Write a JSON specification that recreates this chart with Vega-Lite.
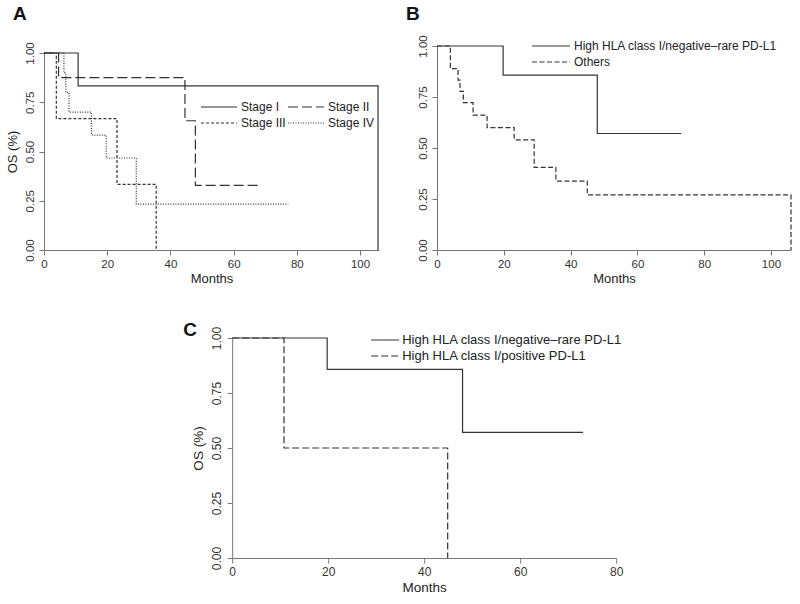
{
  "$schema": "https://vega.github.io/schema/vega-lite/v6.json",
  "background": "white",
  "padding": {"left": 6, "top": 4, "right": 0, "bottom": 0},
  "datasets": {
    "a": [
      {"stage": "Stage I", "month": 0, "os": 1},
      {"stage": "Stage I", "month": 10.8, "os": 0.833},
      {"stage": "Stage I", "month": 105.7, "os": 0},
      {"stage": "Stage II", "month": 0, "os": 1},
      {"stage": "Stage II", "month": 4.6, "os": 0.875},
      {"stage": "Stage II", "month": 44.6, "os": 0.656},
      {"stage": "Stage II", "month": 47.9, "os": 0.328},
      {"stage": "Stage II", "month": 68.5, "os": 0.328},
      {"stage": "Stage III", "month": 0, "os": 1},
      {"stage": "Stage III", "month": 3.9, "os": 0.667},
      {"stage": "Stage III", "month": 23.1, "os": 0.333},
      {"stage": "Stage III", "month": 35.5, "os": 0},
      {"stage": "Stage IV", "month": 0, "os": 1},
      {"stage": "Stage IV", "month": 6.3, "os": 0.9},
      {"stage": "Stage IV", "month": 6.9, "os": 0.8},
      {"stage": "Stage IV", "month": 7.9, "os": 0.7},
      {"stage": "Stage IV", "month": 15.0, "os": 0.583},
      {"stage": "Stage IV", "month": 19.7, "os": 0.467},
      {"stage": "Stage IV", "month": 29.2, "os": 0.233},
      {"stage": "Stage IV", "month": 77.3, "os": 0.233}
    ],
    "b": [
      {"group": "High HLA class I/negative–rare PD-L1", "month": 0, "os": 1},
      {"group": "High HLA class I/negative–rare PD-L1", "month": 19.8, "os": 0.857},
      {"group": "High HLA class I/negative–rare PD-L1", "month": 48.0, "os": 0.571},
      {"group": "High HLA class I/negative–rare PD-L1", "month": 73.1, "os": 0.571},
      {"group": "Others", "month": 0, "os": 1},
      {"group": "Others", "month": 4.0, "os": 0.889},
      {"group": "Others", "month": 6.3, "os": 0.833},
      {"group": "Others", "month": 6.9, "os": 0.778},
      {"group": "Others", "month": 7.9, "os": 0.722},
      {"group": "Others", "month": 10.8, "os": 0.661},
      {"group": "Others", "month": 15.0, "os": 0.6},
      {"group": "Others", "month": 23.1, "os": 0.54},
      {"group": "Others", "month": 29.1, "os": 0.405},
      {"group": "Others", "month": 35.6, "os": 0.338},
      {"group": "Others", "month": 45.0, "os": 0.27},
      {"group": "Others", "month": 106, "os": 0}
    ],
    "c": [
      {"grp": "High HLA class I/negative–rare PD-L1", "month": 0, "os": 1},
      {"grp": "High HLA class I/negative–rare PD-L1", "month": 19.8, "os": 0.857},
      {"grp": "High HLA class I/negative–rare PD-L1", "month": 48.0, "os": 0.571},
      {"grp": "High HLA class I/negative–rare PD-L1", "month": 73.1, "os": 0.571},
      {"grp": "High HLA class I/positive PD-L1", "month": 0, "os": 1},
      {"grp": "High HLA class I/positive PD-L1", "month": 10.8, "os": 0.5},
      {"grp": "High HLA class I/positive PD-L1", "month": 44.9, "os": 0}
    ]
  },
  "config": {
    "font": "Liberation Sans",
    "view": {"stroke": null},
    "axis": {
      "grid": false,
      "domainColor": "#777",
      "tickColor": "#777",
      "tickSize": 5,
      "labelColor": "#333",
      "titleColor": "#222",
      "labelFont": "Liberation Sans",
      "titleFont": "Liberation Sans",
      "titleFontWeight": "normal",
      "labelFlush": false,
      "labelOverlap": false,
      "labelFontSize": 11.5,
      "titleFontSize": 13
    },
    "axisX": {"labelPadding": 3, "titlePadding": 3},
    "axisY": {"labelAngle": -90, "labelAlign": "center", "labelBaseline": "bottom", "labelPadding": 4, "titlePadding": 5},
    "legend": {
      "orient": "none",
      "padding": 0,
      "symbolType": "stroke",
      "labelFont": "Liberation Sans",
      "labelColor": "#222",
      "labelFontSize": 12,
      "labelLimit": 0,
      "symbolStrokeWidth": 1.2,
      "clipHeight": 14,
      "rowPadding": 2,
      "title": null
    },
    "title": {"font": "Liberation Sans", "fontSize": 19, "fontWeight": "bold", "anchor": "start", "frame": "group", "color": "#111"}
  },
  "resolve": {"scale": {"strokeDash": "independent"}, "legend": {"strokeDash": "independent"}},
  "center": true,
  "spacing": 35,
  "vconcat": [
    {
      "spacing": 25,
      "resolve": {"scale": {"strokeDash": "independent"}, "legend": {"strokeDash": "independent"}},
      "hconcat": [
        {
          "title": {"text": "A", "dx": -31, "offset": 18},
          "width": 335,
          "height": 204,
          "data": {"name": "a"},
          "mark": {"type": "line", "interpolate": "step-after", "color": "#333", "strokeWidth": 1.2},
          "encoding": {
            "x": {"field": "month", "type": "quantitative", "scale": {"domain": [0, 106], "nice": false}, "axis": {"values": [0, 20, 40, 60, 80, 100], "title": "Months"}},
            "y": {"field": "os", "type": "quantitative", "scale": {"domain": [0, 1], "nice": false, "range": [204, 7]}, "axis": {"values": [0, 0.25, 0.5, 0.75, 1], "format": ".2f", "title": "OS (%)"}},
            "strokeDash": {
              "field": "stage", "type": "nominal",
              "scale": {"domain": ["Stage I", "Stage III", "Stage II", "Stage IV"], "range": [[1, 0], [3, 2], [10, 4], [1, 1.5]]},
              "legend": {"columns": 2, "legendX": 156, "legendY": 54, "symbolSize": 1296, "labelOffset": 3, "columnPadding": 1}
            }
          }
        },
        {
          "title": {"text": "B", "dx": -31, "offset": 11},
          "width": 374,
          "height": 204,
          "data": {"name": "b"},
          "mark": {"type": "line", "interpolate": "step-after", "color": "#333", "strokeWidth": 1.2},
          "encoding": {
            "x": {"field": "month", "type": "quantitative", "scale": {"domain": [0, 106], "nice": false, "range": [0, 354]}, "axis": {"values": [0, 20, 40, 60, 80, 100], "title": "Months"}},
            "y": {"field": "os", "type": "quantitative", "scale": {"domain": [0, 1], "nice": false}, "axis": {"values": [0, 0.25, 0.5, 0.75, 1], "format": ".2f", "title": null}},
            "strokeDash": {
              "field": "group", "type": "nominal",
              "scale": {"domain": ["High HLA class I/negative–rare PD-L1", "Others"], "range": [[1, 0], [5, 2.5]]},
              "legend": {"legendX": 94, "legendY": -7, "symbolSize": 1444, "labelOffset": 3}
            }
          }
        }
      ]
    },
    {
      "title": {"text": "C", "dx": -49, "offset": -14},
      "width": 384,
      "height": 220,
      "data": {"name": "c"},
      "mark": {"type": "line", "interpolate": "step-after", "color": "#333", "strokeWidth": 1.2},
      "encoding": {
        "x": {"field": "month", "type": "quantitative", "scale": {"domain": [0, 80], "nice": false}, "axis": {"values": [0, 20, 40, 60, 80], "title": "Months", "labelFontSize": 12, "titleFontSize": 13.5}},
        "y": {"field": "os", "type": "quantitative", "scale": {"domain": [0, 1], "nice": false}, "axis": {"values": [0, 0.25, 0.5, 0.75, 1], "format": ".2f", "title": "OS (%)", "labelFontSize": 12, "titleFontSize": 13.5}},
        "strokeDash": {
          "field": "grp", "type": "nominal",
          "scale": {"domain": ["High HLA class I/negative–rare PD-L1", "High HLA class I/positive PD-L1"], "range": [[1, 0], [7, 3]]},
          "legend": {"legendX": 138, "legendY": -5, "symbolSize": 784, "labelOffset": 2, "labelFontSize": 13}
        }
      }
    }
  ]
}
